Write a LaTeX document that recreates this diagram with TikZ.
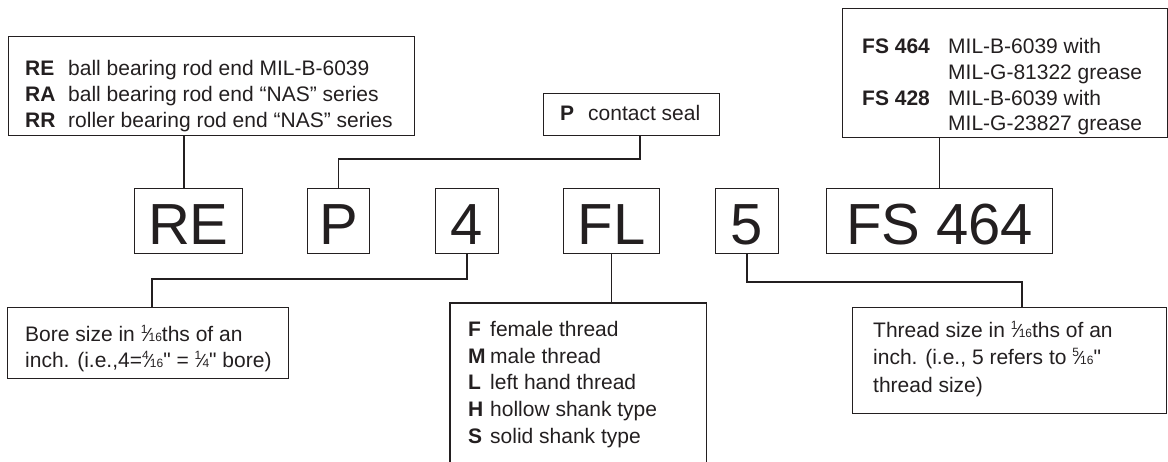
\documentclass[tikz,border=0pt]{standalone}
\usepackage{fontspec}
\setmainfont{Liberation Sans}
\newfontfamily\plainfont{Liberation Sans}
\definecolor{ink}{HTML}{231F20}
\newcommand{\inch}{{\plainfont"}}
\newcommand{\frc}[2]{\raisebox{0.42em}{\fontsize{12}{12}\selectfont #1}\kern-1pt{\fontsize{19}{19}\selectfont ⁄}\kern-1pt{\fontsize{12}{12}\selectfont #2}}
\begin{document}
\begin{tikzpicture}[x=1pt,y=-1pt,
  box/.style={draw=ink, line width=1.3pt, inner sep=0pt, anchor=north west},
  openbox/.style={inner sep=0pt, anchor=north west},
  big/.style={draw=ink, line width=1.3pt, inner sep=0pt, anchor=north west,
    font=\fontsize{58}{58}\selectfont, text=ink, minimum height=65pt,
    text height=46pt, text depth=0pt},
  txt/.style={anchor=base west, inner sep=0pt, font=\fontsize{21}{25}\selectfont, text=ink},
  code/.style={txt, font=\fontsize{21}{25}\selectfont\bfseries},
  conn/.style={draw=ink, line width=1.3pt}]
\useasboundingbox (0,0) rectangle (1168,462);

% ---- top boxes
\node[box, minimum width=406pt, minimum height=99pt] (tl) at (8,36) {};
\node[code] (tl1c) at (25,76) {RE};
\node[txt]  (tl1)  at (68,76) {ball bearing rod end MIL-B-6039};
\node[code] (tl2c) at (25,102) {RA};
\node[txt]  (tl2)  at (68,102) {ball bearing rod end “NAS” series};
\node[code] (tl3c) at (25,128) {RR};
\node[txt]  (tl3)  at (68,128) {roller bearing rod end “NAS” series};

\node[box, minimum width=176pt, minimum height=42pt] (pc) at (543,93) {};
\node[code] (pcc) at (560,121) {P};
\node[txt]  (pct) at (588,121) {contact seal};

\node[box, minimum width=325pt, minimum height=129pt] (fst) at (842,8) {};
\node[code] (fs1c) at (862,54) {FS 464};
\node[txt]  (fs1)  at (948,54) {MIL-B-6039 with};
\node[txt]  (fs2)  at (948,80) {MIL-G-81322 grease};
\node[code] (fs3c) at (862,106) {FS 428};
\node[txt]  (fs3)  at (948,106) {MIL-B-6039 with};
\node[txt]  (fs4)  at (948,131) {MIL-G-23827 grease};

% ---- code boxes
\node[big, minimum width=107.5pt] (re) at (134,188) {RE};
\node[big, minimum width=62pt] (pb) at (307,188) {P};
\node[big, minimum width=62.5pt] (b4) at (435,188) {4};
\node[big, minimum width=96pt] (fl) at (563,188) {FL};
\node[big, minimum width=62.5pt] (b5) at (715,188) {5};
\node[big, minimum width=226pt] (fsb) at (826,188) {FS 464};

% ---- bottom boxes
\node[box, minimum width=281pt, minimum height=71pt] (bore) at (7,307) {};
\node[txt] (bo1) at (25,342) {Bore size in \frc{1}{16}ths of an};
\node[txt] (bo2) at (25,368) {inch. (i.e.,4=\frc{4}{16}\inch{} = \frc{1}{4}\inch{} bore)};

\node[openbox, minimum width=256pt, minimum height=159pt] (flt) at (450,303) {};
\draw[conn] (flt.south west) -- (flt.north west) -- (flt.north east) -- (flt.south east);
\node[code] (f1c) at (468,337) {F};
\node[txt]  (f1)  at (490,337) {female thread};
\node[code] (f2c) at (468,364) {M};
\node[txt]  (f2)  at (490,364) {male thread};
\node[code] (f3c) at (468,390) {L};
\node[txt]  (f3)  at (490,390) {left hand thread};
\node[code] (f4c) at (468,417) {H};
\node[txt]  (f4)  at (490,417) {hollow shank type};
\node[code] (f5c) at (468,443) {S};
\node[txt]  (f5)  at (490,443) {solid shank type};

\node[box, minimum width=314pt, minimum height=106pt] (thr) at (852,307) {};
\node[txt] (th1) at (873,338) {Thread size in \frc{1}{16}ths of an};
\node[txt] (th2) at (873,365) {inch. (i.e., 5 refers to \frc{5}{16}\inch};
\node[txt] (th3) at (873,392) {thread size)};

% ---- connectors
\coordinate (k1) at (184,0);
\draw[conn] (tl.south -| k1) -- (re.north -| k1);
\coordinate (k2) at (640,159);
\draw[conn] (pc.south -| k2) -- (k2) -| (pb.north);
\coordinate (k4) at (152,279);
\draw[conn] (b4.south) |- (k4) -- (bore.north -| k4);
\draw[conn] (fl.south) -- (flt.north -| fl.south);
\coordinate (k5) at (1022,282);
\draw[conn] (b5.south) |- (k5) -- (thr.north -| k5);
\draw[conn] (fst.south -| fsb.north) -- (fsb.north);
\end{tikzpicture}
\end{document}
